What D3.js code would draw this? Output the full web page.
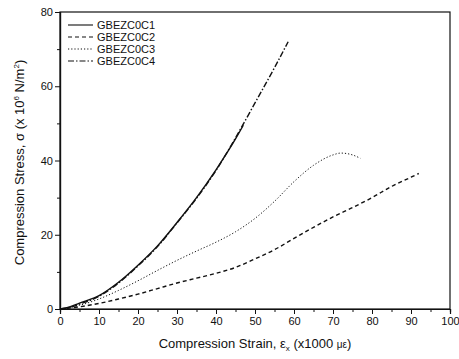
<!DOCTYPE html>
<html>
<head>
<meta charset="utf-8">
<script src="https://cdn.jsdelivr.net/npm/d3@7"></script>
<style>
  body { margin: 0; background: #fff; }
  text { font-family: "Liberation Sans", Arial, sans-serif; fill: #111; }
</style>
</head>
<body>
<script>
// strain (x1000 microstrain) vs stress (x10^6 N/m^2)
var names = ["GBEZC0C1", "GBEZC0C2", "GBEZC0C3", "GBEZC0C4"];

var c1 = [[0,0],[2,0.4],[5,1.6],[10,3.6],[15,7.2],[20,11.8],[25,17],[30,23.3],[35,30],[40,37.5],[45,45.8],[47,49.5]];
var c2 = [[0,0],[5,0.6],[10,1.5],[15,2.7],[20,4],[25,5.5],[30,7],[35,8.3],[40,9.6],[45,11.2],[50,13.5],[55,16],[60,19],[65,22],[70,24.8],[75,27.3],[80,30],[85,33],[90,35.5],[92,36.5]];
var c3 = [[0,0],[5,1],[10,2.7],[15,5],[20,7.6],[25,10.4],[30,13.1],[35,15.6],[40,18],[45,20.8],[50,24.4],[55,29],[60,34.3],[65,38.7],[70,41.5],[72,42],[75,41.5],[77,40.6]];
var c4 = [[0,0],[2,0.3],[5,1.3],[10,3.4],[15,7],[20,11.6],[25,16.8],[30,23.2],[35,29.8],[40,37.3],[45,46.1],[50,55.5],[55,65],[58.5,72]];

var xTicks = [0,10,20,30,40,50,60,70,80,90,100];
var yTicks = [0,20,40,60,80];

var series = [c1, c2, c3, c4];
var dashes = [null, "4,3", "1.2,2", "6,2,1.5,2"];

var W = 459, H = 359;
var m = {left: 60, top: 12, right: 9, bottom: 50};

var svg = d3.select("body").append("svg")
    .attr("width", W)
    .attr("height", H);

var x = d3.scaleLinear().domain([0, 100]).range([m.left, W - m.right]);
var y = d3.scaleLinear().domain([0, 80]).range([H - m.bottom, m.top]);

// frame
svg.append("rect")
    .attr("x", x(0)).attr("y", y(80))
    .attr("width", x(100) - x(0)).attr("height", y(0) - y(80))
    .attr("fill", "none").attr("stroke", "#111").attr("stroke-width", 1.2);

// minor ticks
var xAxisMinor = d3.axisBottom(x).tickValues(d3.range(5, 100, 10)).tickSize(3).tickFormat("");
var yAxisMinor = d3.axisLeft(y).tickValues(d3.range(10, 80, 20)).tickSize(3).tickFormat("");
svg.append("g").attr("transform", "translate(0," + y(0) + ")").call(xAxisMinor);
svg.append("g").attr("transform", "translate(" + x(0) + ",0)").call(yAxisMinor);

var xAxis = d3.axisBottom(x).tickValues(xTicks).tickSize(5).tickPadding(3);
var yAxis = d3.axisLeft(y).tickValues(yTicks).tickSize(5).tickPadding(2);

var gx = svg.append("g").attr("transform", "translate(0," + y(0) + ")").call(xAxis);
var gy = svg.append("g").attr("transform", "translate(" + x(0) + ",0)").call(yAxis);

svg.selectAll(".domain").attr("stroke", "#111").attr("stroke-width", 1.2);
svg.selectAll(".tick line").attr("stroke", "#111");
svg.selectAll(".tick text")
    .style("font-family", "'Liberation Sans', Arial, sans-serif")
    .style("font-size", "11px").attr("fill", "#111");

// curves
var line = d3.line()
    .x(function(d) { return x(d[0]); })
    .y(function(d) { return y(d[1]); })
    .curve(d3.curveMonotoneX);

series.forEach(function(s, i) {
    svg.append("path")
        .datum(s)
        .attr("d", line)
        .attr("fill", "none")
        .attr("stroke", "#111")
        .attr("stroke-width", i == 2 ? 1 : 1.4)
        .attr("stroke-dasharray", dashes[i]);
});

// legend
names.forEach(function(n, i) {
    var ly = 25 + i * 12;
    svg.append("line")
        .attr("x1", 68).attr("x2", 93)
        .attr("y1", ly).attr("y2", ly)
        .attr("stroke", "#111").attr("stroke-width", 1.1)
        .attr("stroke-dasharray", dashes[i]);
    svg.append("text")
        .attr("x", 97).attr("y", ly + 4)
        .style("font-size", "11px")
        .text(n);
});

// axis titles
var xt = svg.append("text")
    .attr("x", 255).attr("y", 348)
    .attr("text-anchor", "middle")
    .style("font-size", "13px");
xt.append("tspan").text("Compression Strain, ε");
xt.append("tspan").attr("dy", 3).style("font-size", "8px").text("x");
xt.append("tspan").attr("dy", -3).text(" (x1000 ");
xt.append("tspan").style("font-size", "10px").text("με");
xt.append("tspan").text(")");

var yt = svg.append("text")
    .attr("transform", "translate(24," + (y(40) + 2) + ") rotate(-90)")
    .attr("text-anchor", "middle")
    .style("font-size", "13px");
yt.append("tspan").text("Compression Stress, σ (x 10");
yt.append("tspan").attr("dy", -5).style("font-size", "8px").text("6");
yt.append("tspan").attr("dy", 5).text(" N/m");
yt.append("tspan").attr("dy", -5).style("font-size", "8px").text("2");
yt.append("tspan").attr("dy", 5).text(")");
</script>
</body>
</html>
